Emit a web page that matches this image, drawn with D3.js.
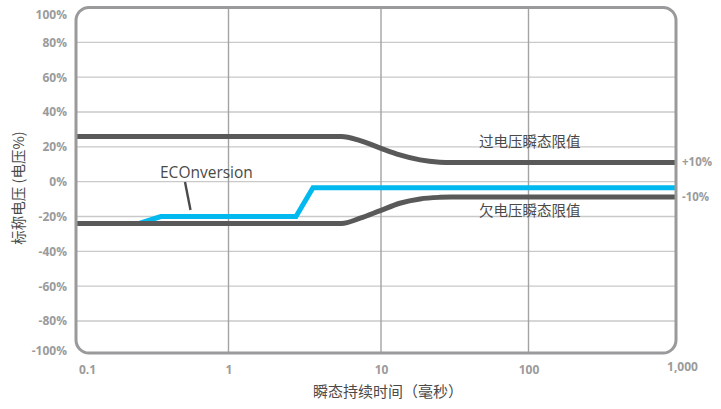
<!DOCTYPE html>
<html><head><meta charset="utf-8">
<script src="https://cdn.jsdelivr.net/npm/d3@7"></script>
<style>
html,body{margin:0;padding:0;background:#fff;}
svg{display:block;}
</style>
</head><body>
<svg id="chart" width="721" height="409"></svg>
<script>
// ---- data ----
const xTicks = [0.1, 1, 10, 100, 1000];
const xTickLabels = ["0.1", "1", "10", "100", "1,000"];
const yTicks = [-100, -80, -60, -40, -20, 0, 20, 40, 60, 80, 100];
const yTickLabels = ["-100%", "-80%", "-60%", "-40%", "-20%", "0%", "20%", "40%", "60%", "80%", "100%"];
// overvoltage transient limit [ms, %]
const overLimit = [[0.1, 26], [5.5, 26], [7.3, 23.6], [9.9, 19.3], [13.4, 15.4], [18.4, 12.5], [25, 11.2], [30, 11], [1000, 11]];
// undervoltage transient limit [ms, %]
const underLimit = [[0.1, -24], [5.5, -24], [7.3, -21], [9.9, -16.6], [13.4, -12.4], [18.4, -9.9], [25, -9], [30, -8.8], [1000, -8.8]];
// ECOnversion curve [ms, %]
const ecoCurve = [[0.1, -24], [0.26, -24], [0.36, -20], [2.77, -20], [3.58, -3.5], [1000, -3.5]];
const rightLabels = [{v: 11, t: "+10%"}, {v: -8.8, t: "-10%"}];
const overName = "过电压瞬态限值";
const underName = "欠电压瞬态限值";
const ecoName = "ECOnversion";
const xTitle = "瞬态持续时间（毫秒）";
const yTitle = "标称电压 (电压%)";

// ---- layout ----
const svg = d3.select("#chart");
const L = 76, R = 676, T = 7.5, B = 353;
const x = d3.scaleLog().domain([0.1, 10, 1000]).range([L, 381, R]);
const y = d3.scaleLinear().domain([-100, -80, 100]).range([B, 321, T]);
const tickFont = "'Open Sans', 'DejaVu Sans', sans-serif";
const cjk = "'Noto Sans CJK SC', sans-serif";
const tickColor = "#9b9b9b";

// horizontal grid
svg.append("g").selectAll("line").data(yTicks.filter(v => v > -100 && v < 100)).join("line")
  .attr("x1", L).attr("x2", R).attr("y1", d => y(d)).attr("y2", d => y(d))
  .attr("stroke", "#c9c9c9").attr("stroke-width", 1.3);
// vertical grid
svg.append("g").selectAll("line").data(xTicks.filter(v => v > 0.1 && v < 1000)).join("line")
  .attr("x1", d => x(d)).attr("x2", d => x(d)).attr("y1", T).attr("y2", B)
  .attr("stroke", "#a3a3a3").attr("stroke-width", 1.4);

// curves
const line = d3.line().x(d => x(d[0])).y(d => y(d[1]));
const smooth = d3.line().x(d => x(d[0])).y(d => y(d[1])).curve(d3.curveMonotoneX);
svg.append("path").datum(ecoCurve).attr("d", line)
  .attr("fill", "none").attr("stroke", "#00b9ee").attr("stroke-width", 5).attr("stroke-linejoin", "miter");
svg.append("path").datum(overLimit).attr("d", smooth)
  .attr("fill", "none").attr("stroke", "#595959").attr("stroke-width", 5);
svg.append("path").datum(underLimit).attr("d", smooth)
  .attr("fill", "none").attr("stroke", "#595959").attr("stroke-width", 5);

// frame
svg.append("rect").attr("x", L).attr("y", T).attr("width", R - L).attr("height", B - T)
  .attr("rx", 13).attr("ry", 13).attr("fill", "none").attr("stroke", "#9a9a9c").attr("stroke-width", 3);

// y tick labels
const yAxis = d3.axisLeft(y).tickValues(yTicks).tickFormat((d, i) => yTickLabels[i]).tickSize(0).tickPadding(0);
const gy = svg.append("g").attr("transform", `translate(67,0)`).call(yAxis);
gy.select(".domain").remove();
gy.selectAll("text").attr("font-family", tickFont).attr("font-weight", 700).attr("font-size", 12)
  .attr("fill", tickColor)
  .attr("dy", d => d === 100 ? "0.9em" : d === -100 ? "0.1em" : "0.32em");

// x tick labels
const xAxis = d3.axisBottom(x).tickValues(xTicks).tickFormat((d, i) => xTickLabels[i]).tickSize(0).tickPadding(0);
const gx = svg.append("g").attr("transform", `translate(0,${B + 12})`).call(xAxis);
gx.select(".domain").remove();
gx.selectAll("text").attr("font-family", tickFont).attr("font-weight", 700).attr("font-size", 12)
  .attr("fill", tickColor)
  .attr("dx", d => d === 0.1 ? 11 : d === 1000 ? 6 : 0)
  .attr("dy", d => d === 1000 ? "0.5em" : "0.71em");

// right labels
svg.append("g").selectAll("text").data(rightLabels).join("text")
  .attr("x", 682).attr("y", d => y(d.v)).attr("dy", "0.32em")
  .attr("font-family", tickFont).attr("font-weight", 700).attr("font-size", 11.5)
  .attr("fill", tickColor).text(d => d.t);

// annotations
svg.append("text").attr("x", 479).attr("y", y(overLimit[overLimit.length - 1][1]) - 21).attr("dy", "0.35em")
  .attr("font-family", cjk).attr("font-size", 14.5).attr("fill", "#4a4a4a").text(overName);
svg.append("text").attr("x", 479).attr("y", y(underLimit[underLimit.length - 1][1]) + 14).attr("dy", "0.35em")
  .attr("font-family", cjk).attr("font-size", 14.5).attr("fill", "#4a4a4a").text(underName);
svg.append("text").attr("x", 160).attr("y", 173).attr("dy", "0.35em")
  .attr("font-family", tickFont).attr("font-size", 15.5).attr("fill", "#4a4a4a").text(ecoName);
svg.append("line").attr("x1", 185).attr("y1", 182).attr("x2", 190.5).attr("y2", 210)
  .attr("stroke", "#4a4a4a").attr("stroke-width", 2.4);

// axis titles
svg.append("text").attr("x", (L + R) / 2 + 12).attr("y", 397).attr("text-anchor", "middle")
  .attr("font-family", cjk).attr("font-size", 15).attr("fill", "#4a4a4a").text(xTitle);
svg.append("text").attr("transform", "translate(24,188) rotate(-90)").attr("text-anchor", "middle")
  .attr("font-family", cjk).attr("font-size", 14.5).attr("fill", "#4a4a4a").text(yTitle);
</script>
</body></html>
